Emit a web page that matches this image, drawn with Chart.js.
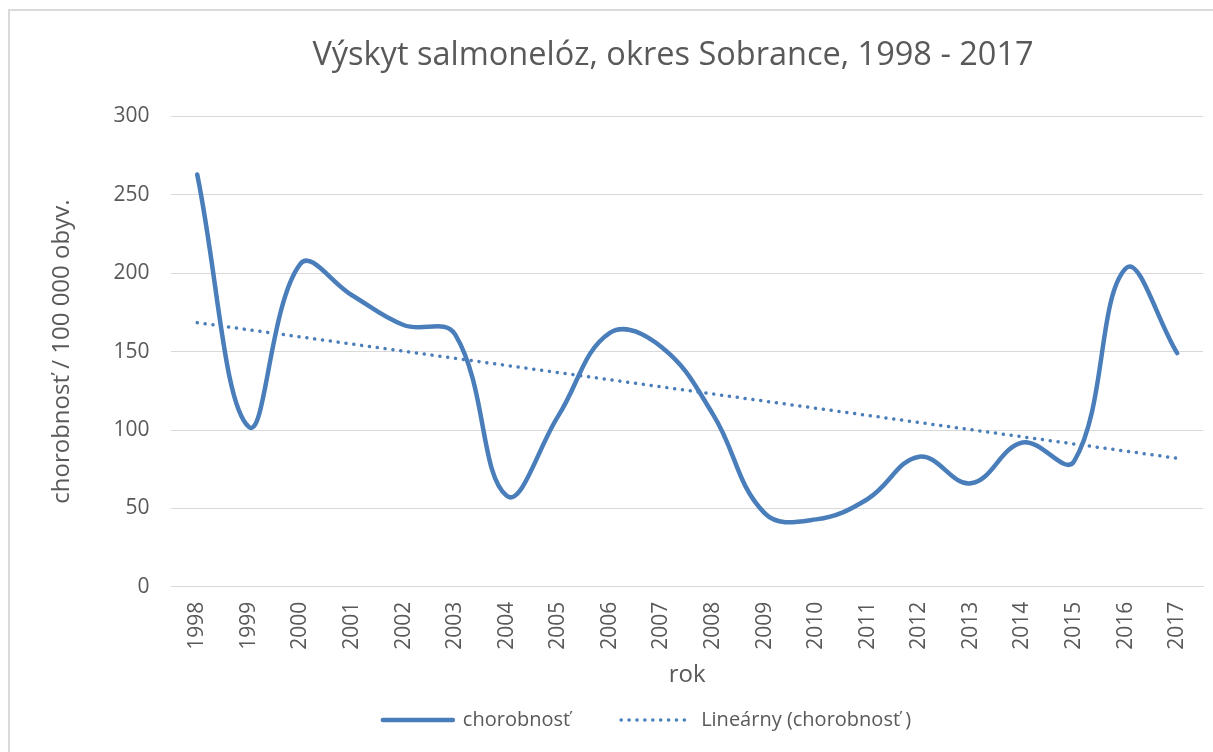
<!DOCTYPE html>
<html>
<head>
<meta charset="utf-8">
<script src="https://cdn.jsdelivr.net/npm/chart.js@4/dist/chart.umd.min.js"></script>
<style>
    html, body { margin: 0; padding: 0; background: #fff; overflow: hidden; }
    body { width: 1213px; height: 752px; position: relative; }
    #frame { position: absolute; left: 8px; top: 9px; width: 1400px; height: 900px; border: 2px solid #d9d9d9; box-sizing: border-box; }
    #chart { position: absolute; left: 0; top: 0; }
</style>
</head>
<body>
<div id="frame"></div>
<canvas id="chart" width="1334" height="752"></canvas>
<script>
// Výskyt salmonelóz, okres Sobrance
const years = ['1998', '1999', '2000', '2001', '2002', '2003', '2004', '2005', '2006', '2007',
               '2008', '2009', '2010', '2011', '2012', '2013', '2014', '2015', '2016', '2017'];
const chorobnost = [263, 102, 206, 186, 167, 161, 58, 109, 162, 153,
                    110, 47, 43, 56, 83, 66, 92, 80, 203, 149];
// linear trend at both ends
const trendStart = 168.5;
const trendEnd = 82;
const yTicks = [0, 50, 100, 150, 200, 250, 300];

const BLUE = '#4a7ebb';
const TEXT = '#595959';
const FONT = "'Open Sans', sans-serif";

// only the two end points, the library draws the straight line between them
const trend = years.map((y, i) => i === 0 ? trendStart : (i === years.length - 1 ? trendEnd : null));

// legend sits a bit left of the canvas centre in the original
const legendShift = {
    id: 'legendShift',
    afterLayout(chart) {
        chart.legend.left -= 26;
        chart.legend.right -= 26;
    }
};

const ctx = document.getElementById('chart').getContext('2d');
new Chart(ctx, {
    type: 'line',
    data: {
        labels: years,
        datasets: [{
            label: 'chorobnosť',
            data: chorobnost,
            borderColor: BLUE,
            borderWidth: 4.5,
            borderCapStyle: 'round',
            pointRadius: 0,
            tension: 0.4
        }, {
            label: 'Lineárny (chorobnosť )',
            data: trend,
            borderColor: BLUE,
            borderWidth: 3.5,
            borderDash: [0.1, 7.8],
            borderCapStyle: 'round',
            pointRadius: 0,
            tension: 0,
            spanGaps: true
        }]
    },
    options: {
        responsive: false,
        animation: false,
        layout: { padding: { left: 12, top: 0, bottom: 12 } },
        plugins: {
            title: {
                display: true,
                text: 'Výskyt salmonelóz, okres Sobrance, 1998 - 2017',
                color: TEXT,
                font: { family: FONT, size: 32.5, weight: 'normal' },
                padding: { top: 36, bottom: 41.5 }
            },
            legend: {
                position: 'bottom',
                labels: {
                    color: TEXT,
                    font: { family: FONT, size: 20 },
                    usePointStyle: true,
                    pointStyleWidth: 70,
                    padding: 51,
                    generateLabels: chart => chart.data.datasets.map((ds, i) => ({
                        text: ds.label,
                        datasetIndex: i,
                        hidden: false,
                        pointStyle: 'line',
                        strokeStyle: ds.borderColor,
                        fillStyle: ds.borderColor,
                        fontColor: TEXT,
                        lineWidth: ds.borderWidth,
                        lineDash: ds.borderDash || [],
                        lineCap: ds.borderCapStyle
                    }))
                }
            },
            tooltip: { enabled: false }
        },
        scales: {
            x: {
                offset: true,
                grid: { display: false, drawTicks: false },
                border: { display: true, color: '#d9d9d9', width: 1 },
                ticks: {
                    color: TEXT,
                    font: { family: FONT, size: 21 },
                    minRotation: 90,
                    maxRotation: 90,
                    padding: 15
                },
                title: {
                    display: true,
                    text: 'rok',
                    color: TEXT,
                    font: { family: FONT, size: 24 },
                    padding: { top: -3.6, bottom: -31 }
                }
            },
            y: {
                min: 0,
                max: 300,
                afterBuildTicks: axis => { axis.ticks = yTicks.map(v => ({ value: v })); },
                grid: { color: '#d9d9d9', lineWidth: 1, drawTicks: false },
                border: { display: false },
                ticks: {
                    color: TEXT,
                    font: { family: FONT, size: 21 },
                    padding: 22
                },
                title: {
                    display: true,
                    text: 'chorobnosť / 100 000 obyv.',
                    color: TEXT,
                    font: { family: FONT, size: 24 },
                    padding: { top: 35.6, bottom: 15 }
                }
            },
            // empty right-hand axis, only keeps the plot edge where the picture has it
            spacer: {
                type: 'linear',
                position: 'right',
                grid: { display: false, drawTicks: false },
                border: { display: false },
                ticks: { display: false },
                afterFit: axis => { axis.width = 131; }
            }
        }
    },
    plugins: [legendShift]
});
</script>
</body>
</html>
